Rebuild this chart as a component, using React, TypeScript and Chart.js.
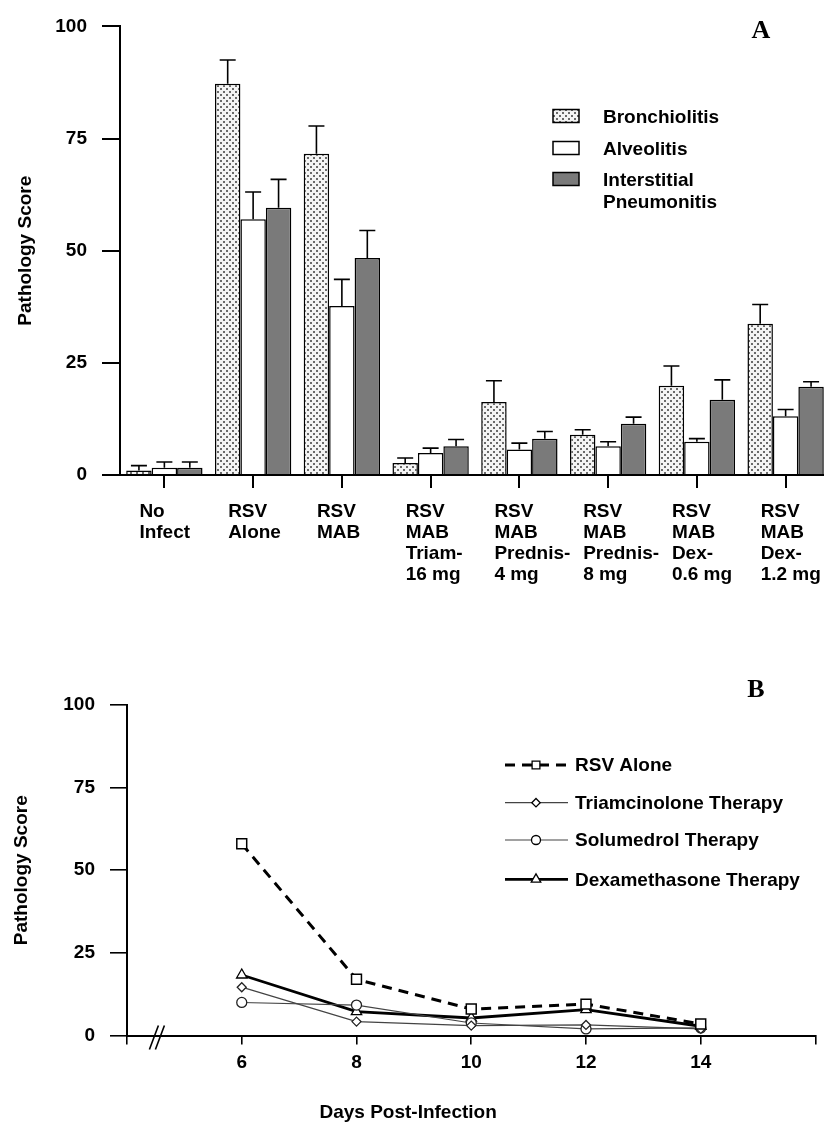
import React, { useEffect, useRef } from 'react';
import { Chart, registerables } from 'chart.js';
import { drawPoint } from 'chart.js/helpers';

Chart.register(...registerables);

// ---------- Panel A data ----------
const groupLabels = [
  ['No', 'Infect'],
  ['RSV', 'Alone'],
  ['RSV', 'MAB'],
  ['RSV', 'MAB', 'Triam-', '16 mg'],
  ['RSV', 'MAB', 'Prednis-', '4 mg'],
  ['RSV', 'MAB', 'Prednis-', '8 mg'],
  ['RSV', 'MAB', 'Dex-', '0.6 mg'],
  ['RSV', 'MAB', 'Dex-', '1.2 mg'],
];
const bronchiolitis = [1.0, 87.2, 71.6, 2.7, 16.3, 9.0, 19.9, 33.7];
const bronchiolitisErr = [1.1, 5.3, 6.2, 1.1, 4.7, 1.1, 4.4, 4.3];
const alveolitis = [1.6, 57.0, 37.7, 4.9, 5.7, 6.4, 7.4, 13.1];
const alveolitisErr = [1.3, 6.1, 5.9, 1.1, 1.4, 1.0, 0.7, 1.5];
const interstitial = [1.6, 59.6, 48.4, 6.4, 8.1, 11.4, 16.8, 19.7];
const interstitialErr = [1.3, 6.3, 6.1, 1.5, 1.6, 1.5, 4.4, 1.1];
const seriesNamesA = ['Bronchiolitis', 'Alveolitis', 'Interstitial Pneumonitis'];

// ---------- Panel B data ----------
const days = [6, 8, 10, 12, 14];
const rsvAlone = [58, 17, 8, 9.5, 3.5];
const triamcinolone = [14.6, 4.2, 3.0, 3.2, 2.0];
const solumedrol = [10, 9.2, 3.8, 2.0, 2.3];
const dexamethasone = [18.3, 7.2, 5.3, 7.8, 2.8];
const seriesNamesB = ['RSV Alone', 'Triamcinolone Therapy', 'Solumedrol Therapy', 'Dexamethasone Therapy'];

const FONT = '"Liberation Sans", Arial, Helvetica, sans-serif';
const SERIF = '"Liberation Serif", "Times New Roman", serif';

function makeDots(): CanvasPattern | string {
  const c = document.createElement('canvas');
  c.width = 6;
  c.height = 6;
  const g = c.getContext('2d');
  if (!g) return '#ddd';
  g.fillStyle = '#f4f4f4';
  g.fillRect(0, 0, 6, 6);
  g.fillStyle = '#6a6a6a';
  g.fillRect(1, 1, 2, 2);
  g.fillRect(4, 4, 2, 2);
  const p = g.createPattern(c, 'repeat');
  return p || '#ddd';
}

const errorBarPlugin = {
  id: 'errorBars',
  afterDatasetsDraw(chart: any) {
    const { ctx } = chart;
    const y = chart.scales.y;
    chart.data.datasets.forEach((ds: any, di: number) => {
      const meta = chart.getDatasetMeta(di);
      meta.data.forEach((bar: any, i: number) => {
        const top = y.getPixelForValue(ds.data[i] + ds.errors[i]);
        ctx.save();
        ctx.strokeStyle = '#000';
        ctx.lineWidth = 1.6;
        ctx.beginPath();
        ctx.moveTo(bar.x, bar.y);
        ctx.lineTo(bar.x, top);
        ctx.moveTo(bar.x - 8, top);
        ctx.lineTo(bar.x + 8, top);
        ctx.stroke();
        ctx.restore();
      });
    });
  },
};

const legendAPlugin = {
  id: 'legendA',
  afterDraw(chart: any) {
    const { ctx } = chart;
    const rowsY = [116, 148, 179];
    ctx.save();
    chart.data.datasets.forEach((ds: any, i: number) => {
      const cy = rowsY[i];
      ctx.fillStyle = ds.backgroundColor;
      ctx.fillRect(553, cy - 6.5, 26, 13);
      ctx.strokeStyle = '#000';
      ctx.lineWidth = 1.5;
      ctx.strokeRect(553, cy - 6.5, 26, 13);
      ctx.fillStyle = '#000';
      ctx.font = 'bold 19px ' + FONT;
      ctx.textAlign = 'left';
      ctx.textBaseline = 'middle';
      const words = ds.label.split(' ');
      words.forEach((w: string, k: number) => ctx.fillText(w, 603, cy + 1.5 + k * 22));
    });
    ctx.font = 'bold 26px ' + SERIF;
    ctx.textAlign = 'center';
    ctx.textBaseline = 'middle';
    ctx.fillText('A', 761, 31);
    ctx.restore();
  },
};

const panelBPlugin = {
  id: 'panelB',
  afterDraw(chart: any) {
    const { ctx, chartArea } = chart;
    const xs = chart.scales.x;
    ctx.save();
    // axis break
    const bx = xs.getPixelForValue(4.53);
    const by = chartArea.bottom;
    ctx.strokeStyle = '#000';
    ctx.lineWidth = 1.6;
    ctx.beginPath();
    ctx.moveTo(bx - 8, by + 14);
    ctx.lineTo(bx + 1, by - 10);
    ctx.moveTo(bx - 2, by + 14);
    ctx.lineTo(bx + 7, by - 10);
    ctx.stroke();
    // x title
    ctx.fillStyle = '#000';
    ctx.font = 'bold 19px ' + FONT;
    ctx.textAlign = 'center';
    ctx.textBaseline = 'middle';
    ctx.fillText('Days Post-Infection', xs.getPixelForValue(8.9), chartArea.bottom + 77.5);
    // letter
    ctx.font = 'bold 26px ' + SERIF;
    ctx.fillText('B', 756, 50);
    // legend
    const rowsY = [125, 162.7, 200, 239.3];
    const legR = [5.5, 4.2, 4.5, 5.5];
    chart.data.datasets.forEach((ds: any, i: number) => {
      const cy = rowsY[i];
      ctx.save();
      ctx.strokeStyle = ds.borderColor;
      ctx.lineWidth = ds.borderWidth;
      ctx.setLineDash(ds.borderDash || []);
      ctx.beginPath();
      ctx.moveTo(505, cy);
      ctx.lineTo(568, cy);
      ctx.stroke();
      ctx.restore();
      ctx.save();
      ctx.fillStyle = '#fff';
      ctx.strokeStyle = '#000';
      ctx.lineWidth = 1.3;
      drawPoint(ctx, { pointStyle: ds.pointStyle, radius: legR[i], rotation: 0, borderWidth: 1.3 } as any, 536, cy);
      ctx.restore();
      ctx.fillStyle = '#000';
      ctx.font = 'bold 19px ' + FONT;
      ctx.textAlign = 'left';
      ctx.textBaseline = 'middle';
      ctx.fillText(ds.label, 575, cy + 1);
    });
    ctx.restore();
  },
};

export default function App() {
  const refA = useRef<HTMLCanvasElement>(null);
  const refB = useRef<HTMLCanvasElement>(null);

  useEffect(() => {
    Chart.defaults.font.family = FONT;
    Chart.defaults.color = '#000';
    const dots = makeDots();
    const tickFont = { size: 19, weight: 'bold' as const, family: FONT };

    const barCommon = {
      borderColor: '#000',
      borderWidth: 1.5,
      categoryPercentage: 0.86,
      barPercentage: 1.0,
    };

    const chartA = new Chart(refA.current as HTMLCanvasElement, {
      type: 'bar',
      data: {
        labels: groupLabels as any,
        datasets: [
          { label: seriesNamesA[0], data: bronchiolitis, errors: bronchiolitisErr, backgroundColor: dots, ...barCommon } as any,
          { label: seriesNamesA[1], data: alveolitis, errors: alveolitisErr, backgroundColor: '#ffffff', ...barCommon } as any,
          { label: seriesNamesA[2], data: interstitial, errors: interstitialErr, backgroundColor: '#7a7a7a', ...barCommon } as any,
        ],
      },
      options: {
        responsive: false,
        animation: false,
        layout: { padding: { top: 22, left: 0, right: 0, bottom: 0 } },
        plugins: { legend: { display: false }, tooltip: { enabled: false } },
        scales: {
          x: {
            type: 'category',
            offset: true,
            grid: { display: true, drawOnChartArea: false, drawTicks: true, tickLength: 13, offset: false, color: '#000', lineWidth: 2 },
            border: { display: true, color: '#000', width: 2 },
            ticks: {
              color: '#000',
              font: { ...tickFont, lineHeight: 1.1 },
              align: 'start',
              labelOffset: -25,
              padding: 13.5,
              autoSkip: false,
              maxRotation: 0,
              minRotation: 0,
            },
            afterFit: (s: any) => { s.height = 120; s.paddingLeft = 0; s.paddingRight = 0; },
          },
          y: {
            min: 0,
            max: 100,
            ticks: { stepSize: 25, color: '#000', font: tickFont, padding: 15 },
            grid: { drawOnChartArea: false, tickLength: 18, color: '#000', lineWidth: 2 },
            border: { color: '#000', width: 2 },
            title: { display: true, text: 'Pathology Score', color: '#000', font: tickFont, padding: { top: 14, bottom: 0 } },
            afterFit: (s: any) => { s.width = 120; },
          },
        },
      } as any,
      plugins: [errorBarPlugin, legendAPlugin],
    });

    const pts = (vals: number[]) => days.map((d, i) => ({ x: d, y: vals[i] }));

    const chartB = new Chart(refB.current as HTMLCanvasElement, {
      type: 'line',
      data: {
        datasets: [
          {
            label: seriesNamesB[0], data: pts(rsvAlone), borderColor: '#000', borderWidth: 3, borderDash: [10, 7],
            pointStyle: 'rect', pointRadius: 7, pointBackgroundColor: '#fff', pointBorderColor: '#000', pointBorderWidth: 1.5,
          },
          {
            label: seriesNamesB[1], data: pts(triamcinolone), borderColor: '#444', borderWidth: 1.3,
            pointStyle: 'rectRot', pointRadius: 4.5, pointBackgroundColor: '#fff', pointBorderColor: '#222', pointBorderWidth: 1.3,
          },
          {
            label: seriesNamesB[2], data: pts(solumedrol), borderColor: '#444', borderWidth: 1.1,
            pointStyle: 'circle', pointRadius: 5, pointBackgroundColor: '#fff', pointBorderColor: '#222', pointBorderWidth: 1.3,
          },
          {
            label: seriesNamesB[3], data: pts(dexamethasone), borderColor: '#000', borderWidth: 2.8,
            pointStyle: 'triangle', pointRadius: 6, pointBackgroundColor: '#fff', pointBorderColor: '#000', pointBorderWidth: 1.3,
          },
        ] as any,
      },
      options: {
        responsive: false,
        animation: false,
        layout: { padding: { top: 65, left: 0, right: 5, bottom: 0 } },
        plugins: { legend: { display: false }, tooltip: { enabled: false } },
        scales: {
          x: {
            type: 'linear',
            min: 4,
            max: 16,
            ticks: {
              stepSize: 2,
              color: '#000',
              font: tickFont,
              padding: 6.8,
              autoSkip: false,
              maxRotation: 0,
              callback: (v: any) => (v === 4 || v === 16 ? '' : String(v)),
            },
            grid: { drawOnChartArea: false, tickLength: 9, color: '#000', lineWidth: 1.6 },
            border: { color: '#000', width: 2 },
            afterFit: (s: any) => { s.height = 87.5; },
          },
          y: {
            min: 0,
            max: 100,
            ticks: { stepSize: 25, color: '#000', font: tickFont, padding: 15 },
            grid: { drawOnChartArea: false, tickLength: 17, color: '#000', lineWidth: 1.6 },
            border: { color: '#000', width: 2 },
            title: { display: true, text: 'Pathology Score', color: '#000', font: tickFont, padding: { top: 10.6, bottom: 0 } },
            afterFit: (s: any) => { s.width = 127; },
          },
        },
      } as any,
      plugins: [panelBPlugin],
    });

    return () => {
      chartA.destroy();
      chartB.destroy();
    };
  }, []);

  return (
    <div style={{ position: 'relative', width: 824, height: 1123, overflow: 'hidden', background: '#fff' }}>
      <style>{'body{margin:0}'}</style>
      <canvas ref={refA} width={830} height={595} style={{ position: 'absolute', left: 0, top: 0, width: 830, height: 595 }} />
      <canvas ref={refB} width={824} height={483} style={{ position: 'absolute', left: 0, top: 640, width: 824, height: 483 }} />
    </div>
  );
}
